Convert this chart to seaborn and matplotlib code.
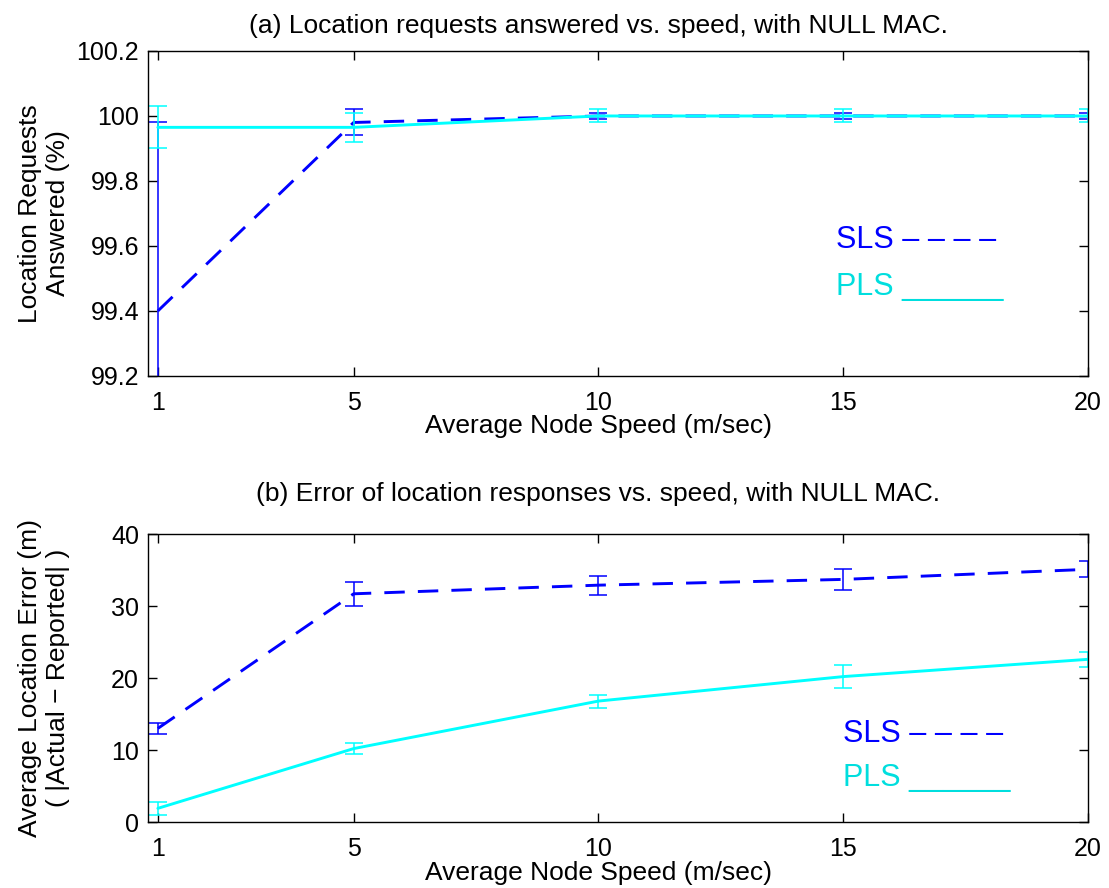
import numpy as np
import pandas as pd
import seaborn as sns
from matplotlib import pyplot as plt

# node speeds (m/sec)
speeds = [1, 5, 10, 15, 20]

# (a) location requests answered (%)
sls_answered = [99.40, 99.98, 100.0, 100.0, 100.0]
sls_answered_err = [0.58, 0.04, 0.01, 0.01, 0.01]
pls_answered = [99.965, 99.965, 100.0, 100.0, 100.0]
pls_answered_err = [0.065, 0.045, 0.02, 0.02, 0.02]

# (b) average location error (m)
sls_error = [13.0, 31.7, 32.9, 33.7, 35.1]
sls_error_err = [0.8, 1.7, 1.3, 1.5, 1.1]
pls_error = [1.9, 10.2, 16.8, 20.2, 22.6]
pls_error_err = [0.9, 0.8, 0.9, 1.6, 1.0]

sns.set_style('ticks')
plt.rcParams['font.family'] = ['Liberation Sans', 'DejaVu Sans']
plt.rcParams['font.size'] = 19
plt.rcParams['text.color'] = 'black'
plt.rcParams['axes.labelcolor'] = 'black'
plt.rcParams['xtick.color'] = 'black'
plt.rcParams['ytick.color'] = 'black'
plt.rcParams['axes.linewidth'] = 1.0

fig = plt.figure(figsize=(11.09, 8.88), dpi=100)
ax1 = fig.add_axes([0.1335, 0.5766, 0.8476, 0.366])
ax2 = fig.add_axes([0.1335, 0.0743, 0.8476, 0.3243])

blue = (0, 0, 1)
cyan = (0, 1, 1)
cyan_text = (0, 0.87, 0.87)


def draw_panel(ax, sls, sls_err, pls, pls_err, xpad):
    df = pd.DataFrame({'speed': speeds, 'SLS': sls, 'PLS': pls})
    sns.lineplot(data=df, x='speed', y='SLS', ax=ax, color=blue, lw=2.1,
                 linestyle=(0, (7, 4.5)))
    ax.errorbar(speeds, sls, yerr=sls_err, fmt='none', ecolor=blue,
                elinewidth=1.1, capsize=6.5, capthick=1.1)
    sns.lineplot(data=df, x='speed', y='PLS', ax=ax, color=cyan, lw=2.1)
    ax.errorbar(speeds, pls, yerr=pls_err, fmt='none', ecolor=cyan,
                elinewidth=1.1, capsize=6.5, capthick=1.1)
    ax.set_xlim(0.8, 20)
    ax.set_xticks(speeds)
    ax.tick_params(axis='x', pad=11)
    ax.tick_params(axis='y', pad=6.5)
    ax.tick_params(direction='in', top=True, right=True, length=6.5,
                   width=1.0, labelsize=18)
    ax.set_xlabel('Average Node Speed (m/sec)', fontsize=19, labelpad=xpad,
                  x=0.479)
    ax.yaxis.set_label_coords(-0.083, 0.5)
    for s in ax.spines.values():
        s.set_visible(True)
        s.set_color('black')


draw_panel(ax1, sls_answered, sls_answered_err, pls_answered, pls_answered_err, -1)
ax1.set_ylim(99.2, 100.2)
ax1.set_yticks([99.2, 99.4, 99.6, 99.8, 100.0, 100.2])
ax1.set_yticklabels(['99.2', '99.4', '99.6', '99.8', '100', '100.2'])
ax1.set_ylabel('Location Requests\nAnswered (%)', fontsize=19)
ax1.set_title('(a) Location requests answered vs. speed, with NULL MAC.',
              fontsize=19, pad=13, x=0.479)
ax1.text(14.86, 99.594, 'SLS – – – –', color=blue, fontsize=22, va='baseline')
ax1.text(14.86, 99.449, 'PLS ______', color=cyan_text, fontsize=22, va='baseline')

draw_panel(ax2, sls_error, sls_error_err, pls_error, pls_error_err, 0)
ax2.set_ylim(0, 40)
ax2.set_yticks([0, 10, 20, 30, 40])
ax2.set_ylabel('Average Location Error (m)\n( |Actual − Reported| )',
               fontsize=19)
ax2.set_title('(b) Error of location responses vs. speed, with NULL MAC.',
              fontsize=19, pad=24, x=0.479)
ax2.text(14.99, 11.1, 'SLS – – – –', color=blue, fontsize=22, va='baseline')
ax2.text(14.99, 5.0, 'PLS ______', color=cyan_text, fontsize=22, va='baseline')

fig.savefig('out.png', dpi=100)
